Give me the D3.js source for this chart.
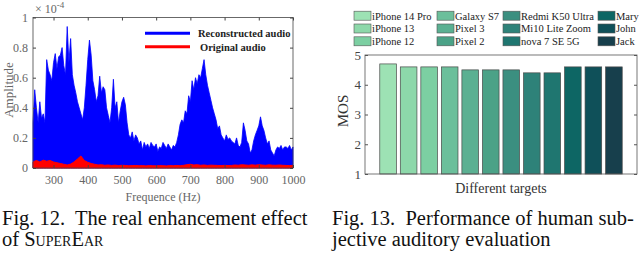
<!DOCTYPE html>
<head>
  <meta charset="utf-8">
  <title>SuperEar figures</title>
  <script src="https://cdn.jsdelivr.net/npm/d3@7"></script>
  <style>
    body { margin: 0; background: #fff; }
    text { font-family: "Liberation Serif", "Times New Roman", serif; }
  </style>
</head>
<body>
<script>
// ---- Fig. 12 data (amplitude x 1e-4), 5 Hz steps from 240 Hz ----
var freqStart = 240, freqStep = 5;
var reconstructed = [
  0.30, 0.52, 0.40, 0.30, 0.44, 0.33, 0.36, 0.30, 0.72, 0.65,
  0.62, 0.58, 0.70, 0.76, 0.66, 0.74, 0.75, 0.80, 0.68, 0.62,
  0.94, 0.70, 0.86, 0.62, 0.55, 0.50, 0.44, 0.40, 0.36, 0.32,
  0.40, 0.55, 0.72, 0.85, 0.75, 0.58, 0.52, 0.44, 0.48, 0.61,
  0.50, 0.54, 0.52, 0.40, 0.35, 0.30, 0.40, 0.59, 0.40, 0.44,
  0.30, 0.38, 0.44, 0.47, 0.42, 0.30, 0.22, 0.20, 0.24, 0.18,
  0.22, 0.20, 0.16, 0.18, 0.12, 0.17, 0.14, 0.16, 0.13, 0.17,
  0.15, 0.14, 0.16, 0.11, 0.14, 0.13, 0.17, 0.15, 0.13, 0.16,
  0.14, 0.12, 0.15, 0.14, 0.17, 0.22, 0.29, 0.32, 0.30, 0.38,
  0.36, 0.48, 0.44, 0.58, 0.52, 0.60, 0.56, 0.62, 0.60, 0.66,
  0.72, 0.62, 0.55, 0.50, 0.45, 0.40, 0.36, 0.32, 0.26, 0.28,
  0.22, 0.20, 0.18, 0.22, 0.19, 0.20, 0.18, 0.17, 0.16, 0.20,
  0.15, 0.14, 0.17, 0.30, 0.25, 0.18, 0.16, 0.10, 0.12, 0.18,
  0.22, 0.25, 0.28, 0.34, 0.28, 0.25, 0.20, 0.16, 0.18, 0.12,
  0.10, 0.08, 0.12, 0.14, 0.13, 0.15, 0.12, 0.14, 0.14, 0.13,
  0.15, 0.12, 0.14
];
// original audio, 10 Hz steps from 240 Hz
var origStep = 10;
var original = [
  0.040, 0.050, 0.040, 0.052, 0.045, 0.050, 0.040, 0.035, 0.030, 0.025,
  0.020, 0.026, 0.040, 0.060, 0.080, 0.050, 0.038, 0.030, 0.025, 0.020,
  0.022, 0.018, 0.020, 0.017, 0.019, 0.016, 0.018, 0.017, 0.015, 0.016,
  0.017, 0.015, 0.016, 0.014, 0.016, 0.015, 0.014, 0.016, 0.015, 0.014,
  0.016, 0.015, 0.017, 0.015, 0.018, 0.022, 0.025, 0.020, 0.022, 0.018,
  0.020, 0.017, 0.019, 0.018, 0.017, 0.016, 0.018, 0.016, 0.017, 0.020,
  0.018, 0.022, 0.020, 0.018, 0.021, 0.019, 0.022, 0.020, 0.018, 0.021,
  0.019, 0.018, 0.020, 0.018, 0.017, 0.016, 0.018
];
var freqTicks = [300, 400, 500, 600, 700, 800, 900, 1000];
var ampTicks = [0, 0.2, 0.4, 0.6, 0.8, 1];

// ---- Fig. 13 data ----
var targets = ["iPhone 14 Pro", "iPhone 13", "iPhone 12", "Galaxy S7", "Pixel 3", "Pixel 2",
               "Redmi K50 Ultra", "Mi10 Lite Zoom", "nova 7 SE 5G", "Mary", "John", "Jack"];
var mos = [4.7, 4.6, 4.6, 4.6, 4.5, 4.5, 4.5, 4.4, 4.4, 4.6, 4.6, 4.6];
var barColors = ["#9de2b4", "#8dd8aa", "#7ccfa2", "#6bbf9b", "#5bb092", "#4ba287",
                 "#3b8f80", "#2e8279", "#1f7670", "#0d6664", "#0f5059", "#173f4c"];
var mosTicks = [1, 2, 3, 4, 5];

var W = 640, H = 253;
var svg = d3.select("body").append("svg").attr("width", W).attr("height", H);
svg.append("rect").attr("width", W).attr("height", H).attr("fill", "#fff");

// ================= left chart =================
var x = d3.scaleLinear().domain([240, 1000]).range([33, 293]);
var y = d3.scaleLinear().domain([0, 1]).range([168, 17.5]);

var recArea = d3.area()
  .x(function(d, i){ return x(freqStart + i * freqStep); })
  .y0(y(0))
  .y1(function(d){ return y(d); });
var origArea = d3.area()
  .x(function(d, i){ return x(freqStart + i * origStep); })
  .y0(y(0))
  .y1(function(d){ return y(d); });

var left = svg.append("g");
left.append("path").datum(reconstructed).attr("d", recArea)
    .attr("fill", "#0000ff").attr("stroke", "#0000ff").attr("stroke-width", 0.8);
left.append("path").datum(original).attr("d", origArea)
    .attr("fill", "#ff0000").attr("stroke", "#ff0000").attr("stroke-width", 1);

// axes box with inward ticks
left.append("rect").attr("x", 33).attr("y", y(1)).attr("width", 260).attr("height", y(0) - y(1))
    .attr("fill", "none").attr("stroke", "#444").attr("stroke-width", 0.8);

var axB = left.append("g").attr("transform", "translate(0," + y(0) + ")")
  .call(d3.axisBottom(x).tickValues(freqTicks).tickSize(-3).tickPadding(7).tickFormat(d3.format("d")));
var axT = left.append("g").attr("transform", "translate(0," + y(1) + ")")
  .call(d3.axisTop(x).tickValues(freqTicks).tickSize(-3).tickFormat(""));
var axL = left.append("g").attr("transform", "translate(33,0)")
  .call(d3.axisLeft(y).tickValues(ampTicks).tickSize(-3).tickPadding(5).tickFormat(function(d){ return d; }));
var axR = left.append("g").attr("transform", "translate(293,0)")
  .call(d3.axisRight(y).tickValues(ampTicks).tickSize(-3).tickFormat(""));
[axB, axT, axL, axR].forEach(function(a){
  a.select(".domain").remove();
  a.selectAll("line").attr("stroke", "#444");
  a.selectAll("text").attr("fill", "#666").attr("font-size", 12)
   .attr("font-family", "'Liberation Serif', serif");
});

var expo = left.append("text").attr("x", 35).attr("y", 13).attr("fill", "#666").attr("font-size", 12);
expo.append("tspan").text("\u00d7 10");
expo.append("tspan").attr("dy", -5).attr("font-size", 9).text("-4");

left.append("text").attr("transform", "translate(13,90) rotate(-90)")
    .attr("text-anchor", "middle").attr("fill", "#666").attr("font-size", 13).text("Amplitude");
left.append("text").attr("x", 163).attr("y", 201).attr("text-anchor", "middle")
    .attr("fill", "#666").attr("font-size", 12).text("Frequence (Hz)");

var legL = [{name: "Reconstructed audio", color: "#0000ff", y: 33.3, tx: 198},
            {name: "Original audio", color: "#ff0000", y: 46.7, tx: 200}];
legL.forEach(function(l){
  left.append("line").attr("x1", 145).attr("x2", 190).attr("y1", l.y).attr("y2", l.y)
      .attr("stroke", l.color).attr("stroke-width", 3);
  left.append("text").attr("x", l.tx).attr("y", l.y + 4).attr("font-size", 10.5)
      .attr("font-weight", "bold").attr("fill", "#222").text(l.name);
});

// ================= right chart =================
var xb = d3.scaleBand().domain(targets).range([365, 637]).paddingInner(0.19).paddingOuter(0.72);
var yb = d3.scaleLinear().domain([1, 5]).range([174, 55]);
var right = svg.append("g");

right.selectAll("rect.bar").data(mos).enter().append("rect").attr("class", "bar")
  .attr("x", function(d, i){ return xb(targets[i]); })
  .attr("y", function(d){ return yb(d); })
  .attr("width", xb.bandwidth())
  .attr("height", function(d){ return yb(1) - yb(d); })
  .attr("fill", function(d, i){ return barColors[i]; })
  .attr("stroke", "#4a4a4a").attr("stroke-width", 0.7);

right.append("rect").attr("x", 365).attr("y", yb(5)).attr("width", 272).attr("height", yb(1) - yb(5))
    .attr("fill", "none").attr("stroke", "#555").attr("stroke-width", 0.8);

var rL = right.append("g").attr("transform", "translate(365,0)")
  .call(d3.axisLeft(yb).tickValues(mosTicks).tickSize(-3).tickPadding(4).tickFormat(d3.format("d")));
var rR = right.append("g").attr("transform", "translate(637,0)")
  .call(d3.axisRight(yb).tickValues(mosTicks).tickSize(-3).tickFormat(""));
[rL, rR].forEach(function(a){
  a.select(".domain").remove();
  a.selectAll("line").attr("stroke", "#555");
  a.selectAll("text").attr("fill", "#444").attr("font-size", 13)
   .attr("font-family", "'Liberation Serif', serif");
});

right.append("text").attr("transform", "translate(348,111) rotate(-90)")
    .attr("text-anchor", "middle").attr("fill", "#333").attr("font-size", 15).text("MOS");
right.append("text").attr("x", 501).attr("y", 193).attr("text-anchor", "middle")
    .attr("fill", "#333").attr("font-size", 14).text("Different targets");

// legend: 4 columns x 3 rows
var legCols = [354, 437, 503, 598], legRows = [15.7, 28.5, 41.3];
targets.forEach(function(t, i){
  var cx = legCols[Math.floor(i / 3)], cy = legRows[i % 3];
  right.append("rect").attr("x", cx).attr("y", cy - 4.5).attr("width", 17).attr("height", 9)
      .attr("fill", barColors[i]).attr("stroke", "#555").attr("stroke-width", 0.6);
  right.append("text").attr("x", cx + 18).attr("y", cy + 3.8).attr("font-size", 10.5)
      .attr("fill", "#222").text(t);
});

// ================= captions =================
var cap = svg.append("g").attr("font-size", 20.5).attr("fill", "#111");
cap.append("text").attr("x", 2).attr("y", 225).style("white-space", "pre")
   .text("Fig. 12.  The real enhancement effect");
var c2 = cap.append("text").attr("x", 2).attr("y", 246).style("white-space", "pre");
c2.append("tspan").text("of ");
c2.append("tspan").style("font-variant", "small-caps").text("SuperEar");
cap.append("text").attr("x", 332).attr("y", 225).style("white-space", "pre")
   .text("Fig. 13.  Performance of human sub-");
cap.append("text").attr("x", 332).attr("y", 246).text("jective auditory evaluation");
</script>
</body>
